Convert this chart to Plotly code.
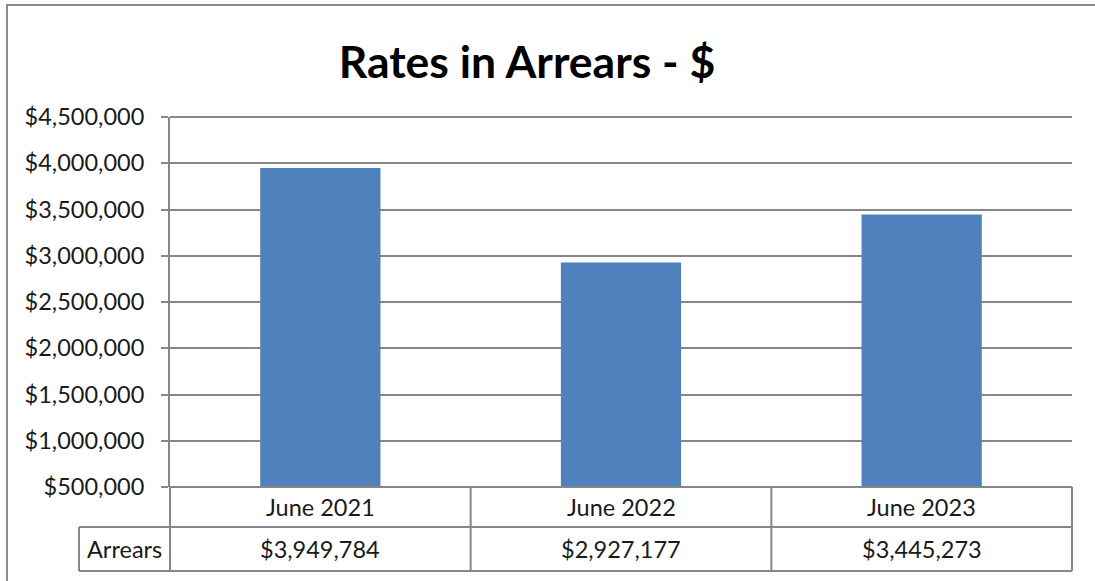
import plotly.graph_objects as go

categories = ["June 2021", "June 2022", "June 2023"]
arrears = [3949784, 2927177, 3445273]
series_name = "Arrears"
title_text = "Rates in Arrears - $"
y_min, y_max, y_step = 500000, 4500000, 500000

W, H = 1095, 581
L, R, T, B = 170, 1072, 117, 487
PW, PH = R - L, B - T


def px_x(px):
    return (px - L) / PW


def px_y(py):
    return (B - py) / PH


GRID = "#878787"
TXT = "#1a1a1a"
FONT = "Lato"
FS = 23.5

fig = go.Figure()
fig.add_trace(go.Bar(x=categories, y=arrears, marker=dict(color="#4F81BD", line=dict(width=0)),
                     name=series_name, hoverinfo="x+y"))

shapes = []
# outer chart border
shapes.append(dict(type="rect", xref="paper", yref="paper", x0=px_x(7), x1=px_x(1105),
                   y0=px_y(600), y1=px_y(5), line=dict(color="#8a8a8a", width=2), layer="below"))
row1_y = px_y(527)
row2_y = px_y(571)
line = dict(color=GRID, width=2)
# vertical lines of table
n = len(categories)
for i in range(n + 1):
    shapes.append(dict(type="line", xref="paper", yref="paper", x0=i / n, x1=i / n, y0=0, y1=row2_y, line=line))
# horizontal lines
shapes.append(dict(type="line", xref="paper", yref="paper", x0=px_x(79), x1=1, y0=row1_y, y1=row1_y, line=line))
shapes.append(dict(type="line", xref="paper", yref="paper", x0=px_x(79), x1=1, y0=row2_y, y1=row2_y, line=line))
shapes.append(dict(type="line", xref="paper", yref="paper", x0=px_x(79), x1=px_x(79), y0=row1_y, y1=row2_y, line=line))
# bottom and top lines of plot area
shapes.append(dict(type="line", xref="paper", yref="paper", x0=0, x1=1, y0=0, y1=0, line=line))
shapes.append(dict(type="line", xref="paper", yref="paper", x0=0, x1=1, y0=1, y1=1, line=line))

annotations = []
for c, v in zip(categories, arrears):
    annotations.append(dict(x=c, xref="x", yref="paper", y=(0 + row1_y) / 2, text=c, showarrow=False,
                            font=dict(family=FONT, size=FS, color=TXT), xanchor="center", yanchor="middle"))
    annotations.append(dict(x=c, xref="x", yref="paper", y=(row1_y + row2_y) / 2, text=f"${v:,}",
                            showarrow=False, font=dict(family=FONT, size=FS, color=TXT),
                            xanchor="center", yanchor="middle"))
annotations.append(dict(x=(px_x(79) + 0) / 2, xref="paper", yref="paper", y=(row1_y + row2_y) / 2,
                        text=series_name, showarrow=False, font=dict(family=FONT, size=FS, color=TXT),
                        xanchor="center", yanchor="middle"))

fig.update_layout(
    width=W, height=H,
    margin=dict(l=L, r=W - R, t=T, b=H - B, pad=0),
    paper_bgcolor="white", plot_bgcolor="white",
    showlegend=False,
    bargap=0.6,
    title=dict(text=f"<b>{title_text}</b>", x=527 / W, xanchor="center", y=1 - 62 / H, yanchor="middle",
               yref="container", font=dict(family=FONT, size=44.5, color="#000")),
    xaxis=dict(type="category", range=[-0.5, n - 0.5], showticklabels=False, showgrid=False,
               zeroline=False, showline=False, ticks=""),
    yaxis=dict(range=[y_min, y_max], dtick=y_step, tick0=y_min, tickformat="$,", showgrid=True,
               gridcolor=GRID, gridwidth=2, zeroline=False, showline=True, linecolor=GRID, linewidth=2,
               ticks="outside", ticklen=7, tickwidth=2, tickcolor=GRID, ticklabelstandoff=12,
               tickfont=dict(family=FONT, size=FS, color=TXT)),
    shapes=shapes,
    annotations=annotations,
)

fig.write_html("out.html")
